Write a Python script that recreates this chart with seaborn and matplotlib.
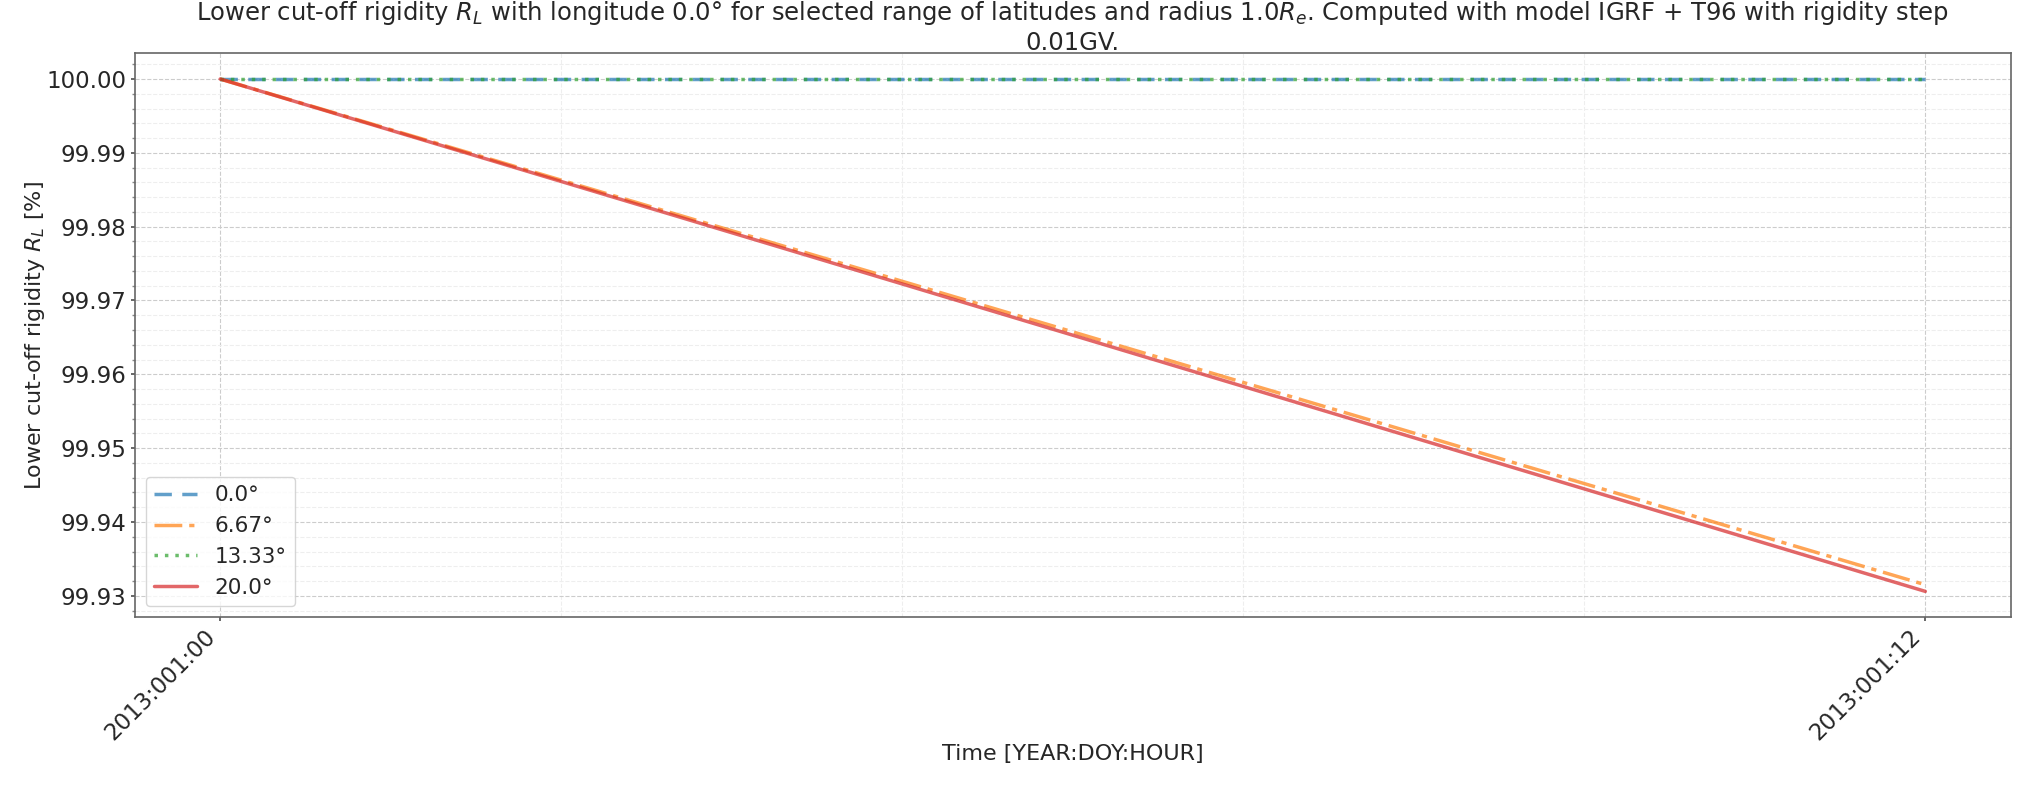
import numpy as np
import pandas as pd
import matplotlib
matplotlib.use("Agg")
import matplotlib.pyplot as plt
import seaborn as sns
from matplotlib.ticker import MultipleLocator, FormatStrFormatter

# Data
hours = [0, 12]
tick_labels = ["2013:001:00", "2013:001:12"]
latitudes = ["0.0°", "6.67°", "13.33°", "20.0°"]
lat_0 = [100.0, 100.0]
lat_667 = [100.0, 99.9315]
lat_1333 = [100.0, 100.0]
lat_20 = [100.0, 99.9306]

series = [lat_0, lat_667, lat_1333, lat_20]
colors = ["tab:blue", "tab:orange", "tab:green", "tab:red"]
styles = [(0, (5, 3)), (0, (8, 2, 1.5, 2)), (0, (1, 2)), "-"]

sns.set_theme(style="whitegrid")
plt.rcParams['font.family'] = ['DejaVu Sans']

FS = 16
TFS = 16.5
fig, ax = plt.subplots(figsize=(20.35, 7.85), dpi=100)
fig.subplots_adjust(left=0.0663, right=0.988, top=0.932, bottom=0.214)

for lab, vals, c, ls in zip(latitudes, series, colors, styles):
    df = pd.DataFrame({"h": hours, "v": vals})
    sns.lineplot(data=df, x="h", y="v", ax=ax, color=c, linestyle=ls,
                 linewidth=2.5, alpha=0.7, label=lab)

ax.margins(x=0.05, y=0.05)
ax.set_xticks(hours)
ax.set_xticklabels(tick_labels, rotation=45, ha="right", fontsize=TFS)
ax.xaxis.set_minor_locator(MultipleLocator(12 / 5))
ax.yaxis.set_major_locator(MultipleLocator(0.01))
ax.yaxis.set_minor_locator(MultipleLocator(0.002))
ax.yaxis.set_major_formatter(FormatStrFormatter("%.2f"))
ax.tick_params(axis="y", labelsize=TFS, left=True, which="major", length=3, pad=3, color="#555555")
ax.tick_params(axis="y", which="minor", left=True, length=2, color="#888888")
ax.tick_params(axis="x", bottom=True, length=3, pad=3, color="#555555")
ax.tick_params(axis="x", which="minor", bottom=False)
ax.grid(which="major", linestyle="--", color="#cccccc", linewidth=0.8)
ax.grid(which="minor", linestyle="--", color="#eeeeee", linewidth=0.8)
for s in ax.spines.values():
    s.set_color("#666666")
    s.set_linewidth(1.2)

ax.set_xlabel("Time [YEAR:DOY:HOUR]", fontsize=FS, labelpad=-0.5)
ax.set_ylabel("Lower cut-off rigidity $R_L$ [%]", fontsize=FS, labelpad=-0.5)
ax.set_title("Lower cut-off rigidity $R_L$ with longitude 0.0° for selected range of latitudes and radius 1.0$R_e$. "
             "Computed with model IGRF + T96 with rigidity step\n0.01GV.", fontsize=17.5, pad=2.5)
ax.legend(loc="lower left", fontsize=15.5, frameon=True)

fig.savefig("out.png", dpi=100)
